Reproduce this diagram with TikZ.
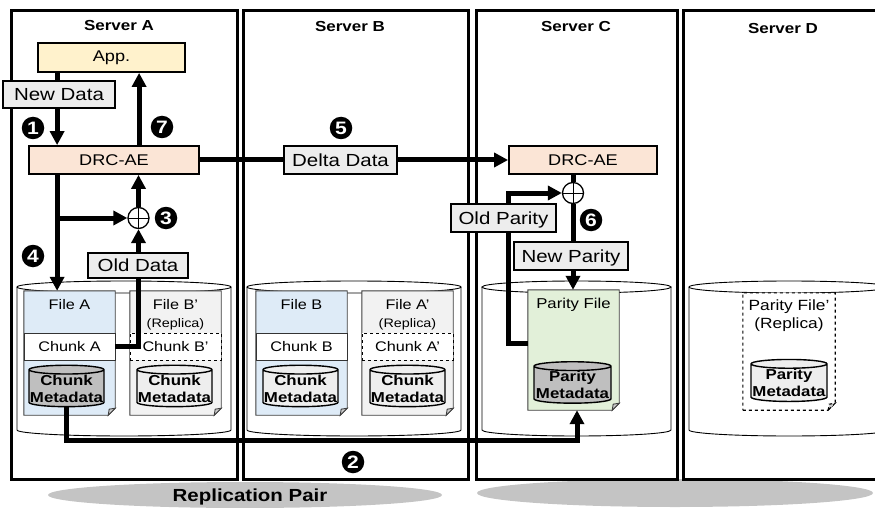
\documentclass[tikz,border=0pt]{standalone}
\usepackage{fontspec}
\setmainfont{Liberation Sans}[FakeStretch=1.17]
\usetikzlibrary{arrows.meta,shapes.geometric}
\definecolor{appfill}{HTML}{FFF2CC}
\definecolor{drcfill}{HTML}{FBE5D6}
\definecolor{tagfill}{HTML}{EDEDED}
\definecolor{fileblue}{HTML}{DEEBF7}
\definecolor{filegray}{HTML}{F2F2F2}
\definecolor{filegreen}{HTML}{E2F0D9}
\definecolor{metadark}{HTML}{BFBFBF}
\definecolor{metalight}{HTML}{EEEEEE}
\definecolor{pairgray}{HTML}{C4C4C4}
\def\fsz#1{\fontsize{#1}{#1}\selectfont}
% document outline with a folded corner round a named node
\def\docfile#1#2{%
  \draw[#2] (#1.south west) -- ([xshift=-7pt]#1.south east) -- ([yshift=7pt]#1.south east)
    -- (#1.north east) -- (#1.north west) -- cycle;
  \draw[#2, fill=black!20] ([xshift=-7pt]#1.south east) -- ([xshift=-6pt,yshift=6pt]#1.south east)
    -- ([yshift=7pt]#1.south east) -- cycle;}
% disk between two x positions
\def\disk#1#2{%
  \draw[fill=white, line width=0.9pt] (#1,220) -- (#1,77)
    arc[start angle=180, end angle=360, x radius={(#2-#1)/2}, y radius=6] -- (#2,220);
  \draw[fill=white, line width=0.9pt] ({(#1+#2)/2},220) ellipse[x radius={(#2-#1)/2}, y radius=6];}

\begin{document}
\begin{tikzpicture}[x=1pt, y=1pt,
  server/.style={draw, line width=3pt, inner sep=0pt},
  title/.style={font=\fsz{14.5}\bfseries, inner sep=0pt},
  unit/.style={draw, line width=1.8pt, inner sep=0pt, font=\fsz{15.5}},
  tag/.style={draw, line width=2.6pt, fill=tagfill, inner sep=0pt, font=\fsz{17.5},
    text height=12.5pt, text depth=0pt},
  num/.style={circle, fill=black, text=white, inner sep=0pt, minimum size=22.5pt,
    font=\fsz{18}\bfseries},
  xor/.style={circle, draw, line width=1.3pt, fill=white, minimum size=21pt, inner sep=0pt,
    path picture={\draw[line width=1pt] (path picture bounding box.north) -- (path picture bounding box.south)
      (path picture bounding box.west) -- (path picture bounding box.east);}},
  arr/.style={line width=5pt, -{Triangle[length=14pt,width=14pt]}},
  link/.style={line width=5pt},
  docbox/.style={inner sep=0pt, minimum width=91pt, minimum height=124pt},
  filetxt/.style={font=\fsz{13.9}, inner sep=0pt},
  replica/.style={font=\fsz{12.3}, inner sep=0pt},
  chunk/.style={draw=black!80, line width=0.9pt, fill=white, minimum width=91pt,
    minimum height=27pt, inner sep=0pt, font=\fsz{13.9}},
  meta/.style={cylinder, shape border rotate=90, aspect=0.12, draw, line width=1.4pt,
    minimum width=75pt, minimum height=41pt, inner sep=0pt, align=center,
    font=\fontsize{14.4}{17}\selectfont\bfseries}]
  \clip (0,0) rectangle (875,507);
  \useasboundingbox (0,0) rectangle (875,507);

  %%%%% PAIRS %%%%%
  \fill[pairgray] (245,12) ellipse[x radius=197, y radius=13];
  \fill[pairgray] (675,14) ellipse[x radius=198, y radius=14];
  \node[font=\fsz{17.5}\bfseries] (pair) at (250,10) {Replication Pair};

  %%%%% SERVERS %%%%%
  \node[server, minimum width=226pt, minimum height=468pt] (srva) at (124,262) {};
  \node[server, minimum width=225pt, minimum height=468pt] (srvb) at (355.5,262) {};
  \node[server, minimum width=201pt, minimum height=468pt] (srvc) at (576.5,262) {};
  \node[server, minimum width=212pt, minimum height=468pt] (srvd) at (789,262) {};
  \node[title] (ta) at (119,481) {Server A};
  \node[title] (tb) at (350,480) {Server B};
  \node[title] (tc) at (576,480) {Server C};
  \node[title] (td) at (783,478) {Server D};

  \disk{17}{231}
  \disk{247}{461}
  \disk{482}{671}
  \disk{689}{889}

  %%%%% FILES %%%%%
  \node[docbox] (filea) at (69.5,154) {};
  \docfile{filea}{fill=fileblue, draw=black!75, line width=0.9pt}
  \node[chunk] (chunka) at (69.5,160.5) {Chunk A};
  \node[filetxt] (filea-t) at (69.5,202) {File A};
  \node[meta, fill=metadark] (cma) at (66.5,118.5) {Chunk\\Metadata};

  \node[docbox] (filebr) at (175.5,154) {};
  \docfile{filebr}{fill=filegray, draw=black!75, line width=0.9pt}
  \node[chunk, dashed, draw=black] (chunkbr) at (175.5,160.5) {Chunk B’};
  \node[filetxt] (filebr-t) at (175.5,202) {File B’};
  \node[replica] (filebr-r) at (175.5,183) {(Replica)};
  \node[meta, fill=metalight] (cmbr) at (174.5,118.5) {Chunk\\Metadata};

  \node[docbox] (fileb) at (301.5,154) {};
  \docfile{fileb}{fill=fileblue, draw=black!75, line width=0.9pt}
  \node[chunk] (chunkb) at (301.5,160.5) {Chunk B};
  \node[filetxt] (fileb-t) at (301.5,202) {File B};
  \node[meta, fill=metalight] (cmb) at (300.5,118.5) {Chunk\\Metadata};

  \node[docbox] (filear) at (407.5,154) {};
  \docfile{filear}{fill=filegray, draw=black!75, line width=0.9pt}
  \node[chunk, dashed, draw=black] (chunkar) at (407.5,160.5) {Chunk A’};
  \node[filetxt] (filear-t) at (407.5,202) {File A’};
  \node[replica] (filear-r) at (407.5,183) {(Replica)};
  \node[meta, fill=metalight] (cmar) at (407.5,118.5) {Chunk\\Metadata};

  \node[docbox, minimum height=120pt] (pfile) at (573.5,157) {};
  \docfile{pfile}{fill=filegreen, draw=black!75, line width=0.9pt}
  \node[filetxt, font=\fsz{14.3}] (pfile-t) at (573.5,202) {Parity File};
  \node[meta, fill=metadark, minimum width=77pt, minimum height=40pt] (pmeta) at (572.5,122) {Parity\\Metadata};

  \node[docbox, minimum width=92pt, minimum height=117pt] (pfiler) at (789,155.5) {};
  \docfile{pfiler}{fill=white, draw=black, dashed, line width=1.1pt}
  \node[filetxt, font=\fsz{14.8}] (pfiler-t) at (789,200) {Parity File’};
  \node[filetxt, font=\fsz{14.8}] (pfiler-r) at (789,182) {(Replica)};
  \node[meta, fill=metalight, minimum width=76pt, minimum height=42pt] (pmetar) at (789,124) {Parity\\Metadata};

  %%%%% ENGINES %%%%%
  \node[unit, fill=appfill, minimum width=147pt, minimum height=29pt] (app) at (111.5,449.5) {App.};
  \node[unit, fill=drcfill, minimum width=170pt, minimum height=28pt] (drca) at (114,347) {DRC-AE};
  \node[unit, fill=drcfill, minimum width=148pt, minimum height=28pt] (drcc) at (583,347) {DRC-AE};
  \node[xor] (xora) at (138.5,289) {};
  \node[xor] (xorc) at (573,314) {};

  %%%%% FLOWS %%%%%
  \draw[arr] ([xshift=20pt]app.south west) -- ([xshift=29pt]drca.north west);
  \coordinate (up7) at ([xshift=111pt]drca.north west);
  \draw[arr] (up7) -- (up7 |- app.south);
  \coordinate (dn4) at ([xshift=29pt]drca.south west);
  \draw[arr] (dn4) -- (dn4 |- filea.north);
  \draw[arr] (dn4 |- xora) -- (xora.west);
  \draw[arr] (xora.north) -- (xora.north |- drca.south);
  \draw[arr] (drca.east) -- (drcc.west);
  \draw[link] (xorc.north |- drcc.south) -- (xorc.north);
  \coordinate (tap) at ([yshift=7pt]pfile.west);
  \draw[arr] (tap) -- (tap -| drcc.west) |- (xorc.west);
  \draw[arr] (cma.south) -- ++(0,-33) -| ([xshift=3.5pt]pfile.south);

  %%%%% TAGS %%%%%
  \node[tag, minimum width=112pt, minimum height=27pt] (nd) at (59,412.5) {New Data};
  \node[tag, minimum width=113pt, minimum height=28pt] (delta) at (340.5,347) {Delta Data};
  \node[tag, minimum width=105pt, minimum height=28pt] (op) at (503.5,289) {Old Parity};
  \node[tag, minimum width=100pt, minimum height=25pt] (od) at (138,241.5) {Old Data};
  \node[tag, minimum width=114pt, minimum height=28pt] (np) at (571,251) {New Parity};
  \draw[arr] (od.north -| xora) -- (xora.south);
  \draw[link] (od.south -| xora) |- (chunka.east);
  \draw[link] (xorc.south) -- (xorc.south |- np.north);
  \coordinate (np6) at (np.south -| xorc);
  \draw[arr] (np6) -- (np6 |- pfile.north);

  %%%%% STEPS %%%%%
  \node[num] (n1) at (33,379) {1};
  \node[num] (n2) at (353,45) {2};
  \node[num] (n3) at (166,289) {3};
  \node[num] (n4) at (33,251) {4};
  \node[num] (n5) at (341,379) {5};
  \node[num] (n6) at (591,287) {6};
  \node[num] (n7) at (162,380) {7};
\end{tikzpicture}
\end{document}
